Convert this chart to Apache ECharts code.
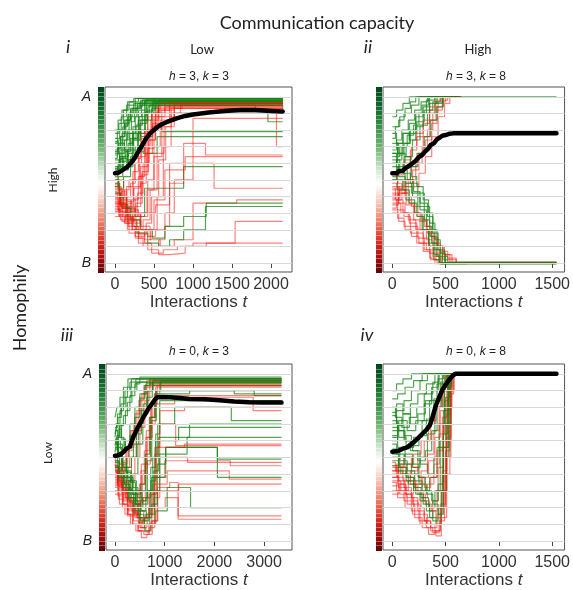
<!DOCTYPE html>
<html>
<head>
<meta charset="utf-8">
<script src="https://cdn.jsdelivr.net/npm/echarts@6/dist/echarts.min.js"></script>
<style>
  html, body { margin: 0; padding: 0; background: #fff; }
  #chart { width: 573px; height: 590px; }
</style>
</head>
<body>
<div id="chart"></div>
<script>
// trajectories are flat lists: t0, y0, t1, y1, ...
var gridLevels = [0, 0.1, 0.2, 0.3, 0.4, 0.5, 0.6, 0.7, 0.8, 0.9, 1];
var ticksI = [0, 500, 1000, 1500, 2000];
var ticksII = [0, 500, 1000, 1500];
var ticksIII = [0, 1000, 2000, 3000];
var ticksIV = [0, 500, 1000, 1500];

// panel i : h = 3, k = 3
var greenI = [
  [0,.72, 30,.8, 80,.88, 150,.95, 260,.99, 2150,.99],
  [0,.65, 40,.7, 90,.78, 140,.86, 200,.93, 330,.98, 2150,.98],
  [0,.6, 60,.66, 120,.74, 180,.85, 250,.9, 380,.97, 2150,.97],
  [0,.78, 50,.84, 110,.92, 180,.97, 300,.99, 2150,.99],
  [0,.55, 40,.6, 100,.68, 160,.62, 220,.75, 300,.86, 420,.94, 560,.98, 2150,.98],
  [0,.7, 70,.76, 130,.83, 170,.9, 240,.96, 2150,.96],
  [0,.5, 50,.45, 110,.52, 200,.64, 290,.78, 380,.9, 500,.96, 2150,.96],
  [0,.62, 80,.7, 150,.78, 240,.74, 330,.86, 470,.93, 560,.9, 1560,.9, 1960,.85, 2150,.85],
  [0,.58, 60,.64, 140,.7, 230,.8, 330,.76, 480,.82, 600,.79, 2150,.79],
  [0,.48, 60,.4, 150,.33, 260,.28, 380,.45, 880,.58, 2150,.58],
  [0,.42, 70,.35, 160,.26, 280,.18, 420,.12, 560,.1, 700,.14, 880,.2, 1160,.34, 2150,.34],
  [0,.4, 90,.33, 200,.26, 330,.2, 480,.15, 640,.22, 880,.28, 1170,.36, 2150,.36],
  [0,.68, 40,.74, 100,.82, 160,.88, 220,.93, 320,.97, 2150,.97],
  [0,.75, 60,.8, 120,.86, 200,.92, 290,.96, 2150,.96],
  [0,.52, 30,.58, 100,.64, 170,.72, 230,.82, 300,.92, 400,.98, 2150,.98],
  [0,.6, 90,.56, 170,.62, 260,.7, 360,.66, 540,.76, 2150,.76],
  [0,.66, 50,.72, 120,.68, 190,.78, 260,.88, 340,.95, 2150,.95],
  [0,.57, 70,.63, 150,.58, 230,.68, 300,.8, 390,.91, 480,.97, 2150,.97],
  [0,.8, 40,.86, 90,.92, 160,.97, 240,.99, 2150,.99],
  [0,.63, 30,.69, 70,.76, 120,.84, 180,.9, 260,.95, 380,.98, 2150,.98],
  [0,.56, 50,.62, 110,.58, 170,.66, 240,.74, 320,.84, 410,.92, 520,.97, 2150,.97],
  [0,.73, 40,.68, 100,.74, 160,.8, 210,.88, 280,.94, 350,.98, 2150,.98],
  [0,.67, 60,.61, 130,.67, 200,.75, 270,.83, 350,.9, 440,.95, 2150,.95],
  [0,.46, 40,.52, 100,.6, 160,.68, 230,.78, 310,.88, 400,.95, 500,.99, 2150,.99]
];
var redI = [
  [0,.38, 40,.32, 100,.28, 170,.34, 240,.45, 320,.6, 400,.78, 480,.9, 560,.95, 2150,.95],
  [0,.45, 60,.36, 130,.3, 210,.38, 300,.52, 380,.7, 460,.86, 560,.94, 2150,.94],
  [0,.35, 50,.4, 110,.33, 190,.27, 270,.36, 350,.55, 430,.74, 520,.9, 640,.96, 2150,.96],
  [0,.5, 40,.44, 120,.4, 200,.48, 260,.6, 340,.75, 420,.88, 520,.95, 1750,.95, 1800,.92, 2070,.7, 2150,.7],
  [0,.42, 70,.36, 150,.28, 240,.22, 330,.3, 420,.5, 500,.7, 580,.86, 700,.95, 2150,.95],
  [0,.33, 50,.28, 120,.24, 220,.2, 310,.17, 400,.24, 470,.4, 560,.62, 650,.82, 760,.93, 2150,.93],
  [0,.46, 80,.4, 150,.46, 230,.55, 300,.67, 380,.8, 500,.88, 760,.9, 2150,.9],
  [0,.4, 60,.34, 140,.3, 220,.2, 300,.15, 380,.12, 470,.1, 560,.14, 640,.22, 700,.6, 1270,.45, 2150,.45],
  [0,.36, 80,.3, 170,.22, 260,.15, 360,.1, 470,.06, 620,.08, 800,.1, 1000,.12, 1540,.25, 2150,.25],
  [0,.3, 90,.25, 180,.18, 300,.12, 420,.08, 560,.05, 700,.06, 900,.1, 1170,.12, 2150,.12],
  [0,.48, 50,.42, 130,.36, 230,.3, 330,.22, 450,.14, 580,.1, 760,.14, 1000,.36, 1560,.38, 2150,.38],
  [0,.44, 100,.38, 200,.32, 300,.28, 420,.3, 520,.35, 700,.48, 880,.72, 1160,.65, 2150,.65],
  [0,.32, 70,.26, 160,.2, 260,.16, 380,.2, 500,.38, 640,.56, 900,.64, 2150,.64],
  [0,.55, 40,.5, 110,.44, 180,.5, 250,.63, 330,.78, 420,.9, 540,.96, 2150,.96],
  [0,.28, 60,.33, 140,.27, 230,.24, 320,.3, 410,.44, 500,.64, 600,.82, 720,.93, 860,.96, 2150,.96],
  [0,.37, 80,.43, 150,.37, 240,.46, 330,.58, 420,.74, 520,.88, 640,.94, 1700,.94, 2150,.93],
  [0,.43, 30,.38, 90,.33, 160,.28, 250,.34, 330,.48, 400,.66, 480,.84, 560,.93, 1900,.93, 2150,.9],
  [0,.34, 50,.29, 130,.24, 220,.28, 290,.42, 360,.6, 440,.8, 540,.92, 700,.97, 2150,.97],
  [0,.41, 60,.35, 140,.3, 230,.26, 320,.2, 420,.16, 520,.2, 640,.3, 760,.5, 1000,.87, 2150,.87],
  [0,.47, 50,.41, 110,.35, 180,.31, 260,.39, 340,.53, 420,.69, 500,.83, 600,.92, 760,.96, 2150,.96],
  [0,.31, 40,.36, 100,.3, 180,.25, 270,.2, 360,.26, 450,.44, 540,.66, 630,.85, 760,.95, 2150,.95],
  [0,.39, 70,.34, 150,.4, 230,.5, 310,.64, 390,.79, 470,.9, 580,.96, 2150,.96],
  [0,.36, 60,.31, 140,.26, 220,.22, 300,.18, 380,.14, 460,.2, 540,.4, 620,.7, 720,.9, 840,.95, 1800,.95, 2150,.94]
];
var meanI = [0,.54, 50,.545, 100,.56, 150,.575, 200,.6, 250,.63, 300,.67, 350,.71, 400,.75, 450,.78, 500,.8, 550,.82, 600,.835, 700,.855, 800,.872, 900,.885, 1000,.893, 1200,.905, 1400,.915, 1600,.92, 1800,.92, 2000,.915, 2150,.912];

// panel ii : h = 3, k = 8
var greenII = [
  [0,.75, 30,.82, 70,.88, 120,.93, 170,.97, 220,1, 1540,1],
  [0,.68, 40,.74, 90,.8, 150,.86, 210,.92, 270,.97, 330,1, 560,1],
  [0,.6, 50,.66, 100,.72, 160,.78, 230,.85, 300,.92, 380,.97, 450,1, 600,1],
  [0,.82, 60,.86, 110,.9, 180,.95, 250,1, 520,1],
  [0,.55, 40,.62, 90,.7, 130,.64, 190,.74, 260,.83, 330,.9, 400,.96, 470,1, 620,1],
  [0,.7, 50,.65, 110,.72, 170,.8, 220,.88, 290,.94, 350,1, 580,1],
  [0,.64, 70,.7, 140,.77, 200,.83, 250,.9, 320,.98, 400,1, 640,1],
  [0,.58, 60,.52, 120,.46, 190,.4, 260,.32, 320,.22, 370,.12, 420,.04, 470,0, 1540,0],
  [0,.66, 40,.6, 100,.54, 170,.48, 240,.42, 300,.34, 350,.24, 400,.14, 450,.06, 500,0, 780,0],
  [0,.5, 50,.44, 130,.38, 210,.3, 280,.2, 340,.1, 390,.02, 440,-.004, 700,-.004],
  [0,.72, 60,.66, 120,.6, 180,.52, 230,.46, 290,.38, 340,.3, 380,.2, 420,.1, 470,.04, 520,.005, 1540,.005],
  [0,.62, 70,.56, 140,.5, 200,.43, 260,.36, 330,.28, 380,.18, 430,.08, 490,0, 760,0],
  [0,.78, 40,.72, 100,.78, 160,.84, 220,.9, 280,.95, 340,1, 600,1],
  [0,.52, 50,.58, 110,.64, 170,.58, 240,.66, 300,.76, 360,.86, 420,.94, 480,1, 560,1],
  [0,.88, 40,.92, 100,.96, 160,1, 450,1],
  [0,.66, 50,.72, 100,.78, 160,.74, 220,.82, 290,.9, 350,.96, 420,1, 640,1],
  [0,.6, 60,.54, 120,.48, 180,.42, 240,.34, 300,.26, 350,.16, 400,.08, 450,-.005, 1540,-.005],
  [0,.55, 40,.5, 100,.44, 160,.36, 230,.28, 290,.2, 340,.12, 390,.05, 440,.003, 1540,.003]
];
var redII = [
  [0,.4, 50,.45, 100,.5, 170,.58, 230,.66, 290,.76, 350,.86, 410,.94, 470,1, 620,1],
  [0,.45, 30,.38, 90,.42, 150,.5, 220,.6, 280,.7, 330,.8, 380,.9, 430,.97, 500,1, 600,1],
  [0,.35, 60,.42, 120,.48, 190,.56, 250,.65, 310,.74, 370,.84, 420,.92, 470,.98, 520,1, 640,1],
  [0,.5, 40,.56, 110,.62, 180,.7, 230,.78, 290,.86, 350,.94, 400,1, 580,1],
  [0,.38, 50,.32, 110,.28, 170,.22, 240,.15, 300,.08, 360,.02, 420,0, 1540,0],
  [0,.42, 60,.36, 120,.3, 200,.26, 260,.2, 320,.14, 380,.08, 440,.03, 500,0, 780,0],
  [0,.33, 40,.38, 100,.3, 160,.24, 230,.18, 290,.12, 350,.06, 410,.02, 460,0, 720,0],
  [0,.46, 70,.4, 130,.35, 200,.3, 260,.25, 320,.2, 370,.15, 430,.1, 490,.05, 560,.006, 1540,.006],
  [0,.36, 80,.3, 150,.26, 220,.2, 290,.15, 350,.1, 410,.06, 470,.02, 540,0, 760,0],
  [0,.3, 60,.25, 120,.2, 180,.16, 250,.12, 320,.08, 380,.04, 440,0, 680,0],
  [0,.44, 40,.48, 90,.42, 150,.36, 210,.3, 270,.26, 330,.18, 390,.12, 450,.07, 520,.03, 600,0, 740,0],
  [0,.39, 70,.44, 130,.5, 190,.46, 250,.54, 310,.64, 370,.76, 430,.88, 490,.96, 540,1, 650,1],
  [0,.32, 50,.27, 110,.22, 170,.18, 230,.12, 290,.07, 350,.03, 400,-.004, 1540,-.004],
  [0,.48, 50,.53, 110,.6, 170,.68, 230,.76, 290,.84, 350,.92, 410,.98, 460,1, 600,1],
  [0,.41, 60,.46, 120,.4, 180,.34, 240,.28, 300,.22, 360,.16, 420,.1, 480,.05, 540,.02, 600,.002, 1540,.002]
];
var meanII = [0,.54, 40,.54, 60,.552, 100,.556, 120,.57, 160,.585, 190,.6, 220,.615, 250,.638, 280,.65, 310,.672, 340,.69, 360,.71, 390,.72, 420,.745, 440,.752, 470,.766, 500,.77, 540,.778, 570,.78, 1540,.78];

// panel iii : h = 0, k = 3
var greenIII = [
  [0,.62, 40,.7, 100,.78, 170,.86, 250,.92, 330,.97, 3350,.97],
  [0,.55, 60,.62, 130,.7, 210,.78, 300,.87, 400,.94, 500,.98, 3350,.98],
  [0,.7, 50,.76, 120,.82, 200,.9, 300,.95, 3350,.95],
  [0,.48, 80,.4, 160,.35, 260,.3, 360,.4, 460,.58, 560,.76, 660,.9, 760,.96, 3350,.96],
  [0,.6, 70,.5, 150,.42, 250,.36, 350,.28, 450,.2, 560,.26, 650,.48, 740,.72, 830,.9, 1400,.9, 2400,.88, 3350,.88],
  [0,.66, 60,.58, 150,.5, 240,.44, 330,.5, 430,.64, 530,.78, 640,.86, 750,.93, 3350,.93],
  [0,.52, 90,.46, 180,.38, 280,.3, 380,.22, 480,.16, 580,.12, 680,.2, 780,.42, 880,.62, 1500,.7, 3350,.7],
  [0,.58, 50,.5, 140,.44, 230,.38, 320,.3, 420,.24, 520,.18, 620,.26, 720,.44, 820,.6, 1280,.68, 3350,.68],
  [0,.45, 70,.38, 160,.32, 260,.26, 370,.2, 480,.14, 590,.1, 700,.16, 800,.3, 900,.52, 1450,.62, 3350,.62],
  [0,.5, 60,.56, 140,.5, 230,.42, 330,.36, 430,.3, 540,.24, 640,.3, 740,.38, 1020,.56, 2060,.49, 3350,.49],
  [0,.42, 80,.36, 170,.3, 270,.24, 380,.16, 490,.1, 600,.06, 710,.1, 820,.18, 1050,.32, 1520,.2, 3350,.2],
  [0,.64, 40,.7, 90,.62, 180,.56, 270,.5, 370,.58, 470,.7, 570,.82, 660,.9, 760,.95, 3350,.95],
  [0,.56, 70,.5, 160,.44, 260,.38, 360,.32, 460,.26, 560,.22, 660,.3, 760,.5, 860,.7, 1200,.8, 2340,.72, 3350,.72],
  [0,.47, 90,.4, 190,.34, 300,.28, 410,.22, 520,.18, 630,.14, 740,.22, 850,.46, 1020,.56, 2060,.38, 3350,.38],
  [0,.68, 60,.74, 130,.8, 220,.86, 320,.92, 420,.97, 3350,.97],
  [0,.53, 40,.6, 110,.55, 200,.6, 300,.7, 400,.8, 500,.88, 620,.94, 3350,.94],
  [0,.59, 50,.53, 130,.47, 220,.41, 310,.35, 410,.28, 510,.34, 610,.52, 700,.74, 800,.88, 1500,.9, 2800,.87, 3350,.87],
  [0,.74, 40,.8, 100,.86, 170,.92, 260,.97, 3350,.97],
  [0,.61, 60,.67, 130,.61, 210,.55, 300,.63, 400,.74, 500,.85, 600,.93, 700,.97, 3350,.97],
  [0,.5, 50,.44, 130,.38, 220,.32, 320,.26, 420,.22, 520,.3, 620,.5, 720,.74, 820,.9, 920,.96, 3350,.96],
  [0,.57, 40,.63, 100,.69, 170,.75, 250,.83, 340,.9, 440,.95, 3350,.95],
  [0,.44, 80,.38, 180,.32, 290,.26, 400,.18, 510,.12, 620,.16, 720,.36, 820,.64, 900,.84, 3350,.84]
];
var redIII = [
  [0,.4, 60,.34, 140,.28, 230,.36, 330,.5, 430,.66, 530,.8, 640,.9, 760,.96, 3350,.96],
  [0,.44, 50,.38, 130,.32, 220,.26, 320,.2, 420,.26, 520,.42, 620,.62, 720,.8, 820,.92, 3350,.92],
  [0,.36, 70,.3, 160,.24, 260,.18, 370,.12, 480,.08, 590,.14, 700,.3, 800,.56, 900,.78, 1400,.8, 2780,.78, 3350,.78],
  [0,.48, 80,.42, 170,.36, 270,.3, 370,.24, 470,.18, 580,.14, 690,.2, 800,.38, 1000,.48, 2320,.45, 3350,.45],
  [0,.32, 60,.27, 150,.22, 250,.16, 360,.1, 470,.06, 580,.04, 690,.08, 800,.2, 1010,.26, 1270,.15, 3350,.15],
  [0,.38, 90,.32, 180,.26, 290,.2, 400,.14, 510,.08, 620,.06, 730,.12, 850,.32, 1100,.35, 1270,.13, 3350,.13],
  [0,.46, 40,.4, 120,.34, 210,.3, 300,.36, 400,.5, 500,.68, 600,.84, 700,.94, 3350,.94],
  [0,.3, 70,.25, 150,.2, 250,.15, 350,.1, 460,.06, 570,.05, 680,.1, 790,.26, 900,.5, 1460,.47, 3350,.47],
  [0,.42, 60,.36, 150,.3, 250,.24, 350,.18, 450,.14, 550,.1, 650,.16, 760,.34, 1050,.42, 2300,.37, 3350,.37],
  [0,.5, 30,.44, 110,.38, 200,.44, 290,.56, 380,.7, 480,.84, 580,.93, 3350,.93],
  [0,.34, 80,.28, 170,.22, 270,.16, 380,.2, 490,.34, 590,.54, 690,.74, 790,.88, 900,.95, 3350,.95],
  [0,.39, 50,.33, 140,.38, 230,.32, 330,.26, 430,.3, 530,.46, 630,.66, 730,.82, 1200,.86, 2780,.8, 3350,.8],
  [0,.28, 90,.22, 200,.16, 310,.1, 420,.06, 530,.02, 640,.04, 750,.12, 860,.3, 1280,.34, 3350,.34],
  [0,.45, 70,.4, 150,.46, 240,.54, 340,.66, 440,.78, 540,.88, 640,.96, 3350,.96],
  [0,.41, 60,.35, 150,.29, 250,.23, 360,.17, 470,.11, 580,.14, 690,.28, 800,.52, 900,.7, 1220,.57, 3350,.57],
  [0,.35, 50,.42, 130,.48, 220,.56, 310,.66, 400,.76, 500,.86, 600,.92, 720,.97, 3350,.97],
  [0,.37, 60,.31, 150,.25, 250,.19, 350,.15, 450,.22, 550,.4, 650,.62, 750,.82, 850,.93, 3350,.93],
  [0,.43, 70,.37, 150,.31, 240,.25, 340,.2, 440,.14, 540,.08, 640,.1, 740,.28, 840,.56, 1400,.58, 3350,.58],
  [0,.33, 50,.38, 120,.32, 210,.26, 310,.2, 410,.16, 510,.24, 610,.46, 710,.7, 810,.87, 3350,.87]
];
var meanIII = [0,.51, 60,.512, 120,.52, 180,.535, 220,.55, 260,.555, 300,.565, 340,.6, 380,.63, 420,.655, 460,.68, 500,.7, 560,.735, 620,.765, 680,.795, 740,.82, 800,.845, 850,.86, 950,.862, 1100,.86, 1300,.855, 1500,.85, 1800,.848, 2100,.842, 2400,.834, 2700,.83, 3000,.829, 3350,.828];

// panel iv : h = 0, k = 8
var greenIV = [
  [0,.85, 50,.88, 120,.92, 200,.96, 280,1, 900,1],
  [0,.75, 40,.7, 100,.76, 170,.82, 240,.88, 320,.94, 400,1, 800,1],
  [0,.68, 60,.62, 130,.56, 200,.62, 280,.72, 350,.84, 420,.94, 470,1, 1020,1],
  [0,.62, 50,.56, 120,.5, 190,.44, 260,.5, 330,.64, 400,.8, 460,.92, 510,1, 750,1],
  [0,.55, 70,.48, 140,.42, 210,.36, 280,.3, 350,.38, 420,.56, 480,.78, 530,1, 700,1],
  [0,.7, 40,.78, 110,.84, 180,.9, 260,.96, 330,1, 650,1],
  [0,.5, 60,.44, 130,.38, 200,.32, 270,.26, 340,.2, 400,.3, 450,.6, 500,.86, 540,1, 680,1],
  [0,.8, 30,.74, 90,.68, 160,.74, 230,.8, 300,.88, 380,.95, 440,1, 620,1],
  [0,.6, 50,.66, 120,.6, 190,.54, 260,.46, 330,.4, 390,.5, 440,.7, 490,.9, 520,1, 600,1],
  [0,.45, 80,.4, 150,.34, 220,.28, 290,.22, 350,.14, 410,.1, 460,.3, 510,.7, 550,1, 660,1],
  [0,.66, 60,.72, 140,.66, 220,.72, 300,.82, 370,.9, 430,.97, 480,1, 580,1],
  [0,.58, 40,.52, 110,.46, 180,.4, 250,.34, 320,.28, 380,.22, 430,.16, 480,.5, 530,1, 640,1],
  [0,.72, 50,.66, 110,.6, 170,.54, 240,.48, 310,.54, 370,.66, 420,.8, 470,.94, 510,1, 720,1],
  [0,.52, 60,.46, 120,.52, 190,.46, 250,.38, 310,.3, 370,.24, 430,.34, 480,.64, 520,.92, 560,1, 700,1],
  [0,.9, 40,.94, 100,.97, 180,1, 1000,1],
  [0,.63, 50,.69, 110,.63, 180,.57, 250,.63, 320,.73, 390,.85, 450,.95, 490,1, 800,1],
  [0,.48, 60,.42, 130,.36, 200,.3, 260,.24, 320,.18, 380,.12, 430,.2, 480,.56, 530,.94, 555,1, 760,1],
  [0,.77, 40,.82, 100,.76, 170,.7, 240,.76, 310,.84, 370,.92, 430,1, 700,1]
];
var redIV = [
  [0,.4, 50,.34, 120,.28, 190,.22, 260,.16, 330,.1, 400,.06, 450,.2, 500,.6, 550,1, 620,1],
  [0,.45, 60,.4, 130,.46, 200,.52, 270,.6, 340,.7, 400,.8, 450,.9, 500,1, 700,1],
  [0,.35, 40,.3, 110,.24, 180,.18, 250,.12, 320,.08, 380,.05, 440,.12, 490,.4, 540,.8, 560,1, 680,1],
  [0,.5, 70,.44, 140,.38, 210,.32, 280,.38, 340,.48, 400,.62, 450,.78, 490,.92, 530,1, 760,1],
  [0,.38, 60,.32, 130,.26, 200,.2, 270,.26, 330,.34, 390,.46, 440,.64, 490,.84, 530,1, 640,1],
  [0,.3, 50,.26, 120,.2, 190,.16, 260,.1, 320,.14, 380,.24, 430,.44, 480,.7, 520,1, 600,1],
  [0,.42, 40,.46, 100,.4, 170,.34, 240,.28, 310,.22, 370,.18, 420,.3, 470,.56, 520,.86, 550,1, 720,1],
  [0,.33, 70,.28, 140,.22, 210,.14, 280,.08, 340,.04, 400,.06, 450,.22, 500,.54, 540,.9, 570,1, 640,1],
  [0,.47, 30,.42, 100,.36, 170,.42, 240,.5, 300,.6, 360,.72, 410,.84, 460,.94, 500,1, 660,1],
  [0,.36, 80,.3, 150,.36, 220,.3, 290,.24, 350,.18, 410,.14, 460,.3, 510,.62, 550,.9, 580,1, 700,1],
  [0,.44, 50,.38, 110,.32, 180,.26, 240,.2, 300,.12, 360,.08, 420,.16, 470,.42, 510,.76, 545,1, 660,1],
  [0,.28, 60,.34, 130,.28, 200,.34, 270,.42, 330,.52, 390,.66, 440,.8, 480,.92, 520,1, 620,1],
  [0,.42, 60,.36, 120,.3, 180,.24, 240,.18, 300,.12, 360,.06, 410,.03, 460,.14, 510,.5, 550,.88, 575,1, 760,1],
  [0,.38, 40,.44, 110,.5, 180,.44, 240,.38, 300,.32, 360,.38, 420,.54, 470,.74, 510,.9, 540,1, 700,1]
];
var meanIV = [0,.534, 50,.538, 100,.552, 140,.56, 170,.575, 200,.59, 240,.614, 280,.64, 320,.665, 350,.69, 370,.725, 390,.77, 410,.812, 440,.86, 470,.904, 500,.935, 530,.962, 560,.985, 590,1, 1540,1];

var chart = echarts.init(document.getElementById('chart'));

var boxes = [
  { left: 105, top: 87, width: 187, height: 185, xmin: -128, xmax: 2269, ticks: ticksI, ab: true },
  { left: 383, top: 87, width: 186, height: 185, xmin: -87, xmax: 1616, ticks: ticksII, ab: false },
  { left: 106, top: 364, width: 186, height: 186, xmin: -181, xmax: 3561, ticks: ticksIII, ab: true },
  { left: 383, top: 364, width: 186, height: 186, xmin: -87, xmax: 1616, ticks: ticksIV, ab: false }
];
var panels = [
  { green: greenI, red: redI, mean: meanI },
  { green: greenII, red: redII, mean: meanII },
  { green: greenIII, red: redIII, mean: meanIII },
  { green: greenIV, red: redIV, mean: meanIV }
];

function pairs(f) {
  var res = [];
  for (var j = 0; j < f.length; j += 2) res.push([f[j], f[j + 1]]);
  return res;
}

var GREEN = 'rgba(16,130,16,0.72)';
var RED = 'rgba(255,16,8,0.52)';
var plotFont = 'Liberation Sans, Arial, sans-serif';
var outerFont = 'Lato, Open Sans, sans-serif';

var grids = [], xAxes = [], yAxes = [], series = [], graphics = [];

boxes.forEach(function (b, gi) {
  grids.push({ left: b.left, top: b.top, width: b.width, height: b.height, show: true,
    borderColor: '#555', borderWidth: 1, backgroundColor: '#fff' });
  xAxes.push({
    type: 'value', gridIndex: gi, min: b.xmin, max: b.xmax,
    splitLine: { show: false }, axisLine: { show: false },
    axisTick: { show: true, customValues: b.ticks, length: 5, lineStyle: { color: '#444' } },
    axisLabel: { customValues: b.ticks, margin: 5, fontSize: 16, color: '#333', fontFamily: plotFont,
      formatter: function (v) { return String(v); } },
    name: '{a|Interactions }{b|t}', nameLocation: 'middle', nameGap: 18,
    nameTextStyle: { fontSize: 17, color: '#333', fontFamily: plotFont,
      rich: { a: { fontSize: 17, color: '#333', fontFamily: plotFont },
              b: { fontSize: 17, color: '#333', fontStyle: 'italic', fontFamily: plotFont } } }
  });
  yAxes.push({
    type: 'value', gridIndex: gi, min: -0.054, max: 1.059,
    splitLine: { show: false }, axisLine: { show: false }, axisTick: { show: false },
    axisLabel: { show: b.ab, customValues: [0, 1], margin: 14, fontSize: 14, fontStyle: 'italic',
      color: '#222', fontFamily: plotFont,
      formatter: function (v) { return v > 0.5 ? 'A' : 'B'; } }
  });
  // horizontal guide lines
  series.push({
    type: 'line', xAxisIndex: gi, yAxisIndex: gi, data: [], silent: true, z: 1,
    markLine: { silent: true, symbol: 'none', animation: false, label: { show: false },
      lineStyle: { color: '#d8d8d8', type: 'solid', width: 1 },
      data: gridLevels.map(function (v) { return { yAxis: v }; }) }
  });
  var p = panels[gi];
  var n = Math.max(p.green.length, p.red.length);
  for (var k = 0; k < n; k++) {
    [[p.red[k], RED], [p.green[k], GREEN]].forEach(function (item) {
      if (!item[0]) return;
      series.push({ type: 'line', xAxisIndex: gi, yAxisIndex: gi, data: pairs(item[0]),
        step: 'end', showSymbol: false, silent: true, animation: false, z: 2,
        lineStyle: { width: 1.2, color: item[1] } });
    });
  }
  series.push({ type: 'line', xAxisIndex: gi, yAxisIndex: gi, data: pairs(p.mean),
    showSymbol: false, silent: true, animation: false, z: 5,
    lineStyle: { width: 4.5, color: '#000', cap: 'round', join: 'round' } });

  // colour bar next to the box, with faint bands
  graphics.push({
    type: 'rect', silent: true,
    shape: { x: b.left - 7, y: b.top, width: 6, height: b.height + 1 },
    style: { fill: new echarts.graphic.LinearGradient(0, 0, 0, 1, [
      { offset: 0, color: '#00451c' }, { offset: 0.15, color: '#1d7a34' },
      { offset: 0.32, color: '#6cb56e' }, { offset: 0.45, color: '#d3ead2' },
      { offset: 0.52, color: '#ffffff' }, { offset: 0.6, color: '#f9d3c6' },
      { offset: 0.72, color: '#f0826a' }, { offset: 0.84, color: '#d9291c' },
      { offset: 0.93, color: '#a00c0c' }, { offset: 1, color: '#5a0404' }]) }
  });
  for (var s = 1; s < 40; s++) {
    var yy = Math.round(b.top + s * (b.height / 40)) + 0.5;
    graphics.push({ type: 'line', silent: true,
      shape: { x1: b.left - 7, y1: yy, x2: b.left - 1, y2: yy },
      style: { stroke: 'rgba(255,255,255,0.35)', lineWidth: 1 } });
  }
});

function txt(x, y, text, size, opts) {
  opts = opts || {};
  graphics.push({
    type: 'text', x: x, y: y, rotation: opts.rot || 0, silent: true,
    style: { text: text, fontSize: size, fontFamily: opts.font || outerFont,
      fontStyle: opts.italic ? 'italic' : 'normal', fill: '#222',
      textAlign: 'center', textVerticalAlign: 'middle', rich: opts.rich }
  });
}

var richHK = { i: { fontStyle: 'italic', fontSize: 12, fontFamily: plotFont, fill: '#222' },
               n: { fontSize: 12, fontFamily: plotFont, fill: '#222' } };

txt(317, 23, 'Communication capacity', 18);
txt(202, 50, 'Low', 13);
txt(478, 50, 'High', 13);
txt(68, 47, 'i', 18, { italic: true });
txt(368, 47, 'ii', 18, { italic: true });
txt(67, 335, 'iii', 18, { italic: true });
txt(367, 335, 'iv', 18, { italic: true });
txt(199, 77, '{i|h}{n| = 3, }{i|k}{n| = 3}', 12, { rich: richHK, font: plotFont });
txt(476, 77, '{i|h}{n| = 3, }{i|k}{n| = 8}', 12, { rich: richHK, font: plotFont });
txt(199, 352, '{i|h}{n| = 0, }{i|k}{n| = 3}', 12, { rich: richHK, font: plotFont });
txt(476, 352, '{i|h}{n| = 0, }{i|k}{n| = 8}', 12, { rich: richHK, font: plotFont });
txt(20, 308, 'Homophily', 18, { rot: Math.PI / 2 });
txt(53, 180, 'High', 12, { rot: Math.PI / 2 });
txt(48, 453, 'Low', 12, { rot: Math.PI / 2 });

chart.setOption({
  animation: false,
  backgroundColor: '#fff',
  grid: grids,
  xAxis: xAxes,
  yAxis: yAxes,
  series: series,
  graphic: graphics
});
</script>
</body>
</html>
